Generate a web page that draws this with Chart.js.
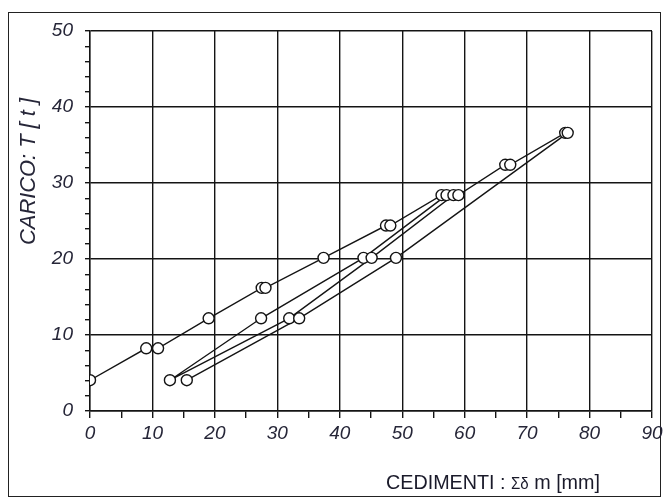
<!DOCTYPE html>
<html>
<head>
<meta charset="utf-8">
<script src="https://cdn.jsdelivr.net/npm/chart.js@4.4.1/dist/chart.umd.min.js"></script>
<style>
  html, body { margin: 0; padding: 0; background: #ffffff; }
  #wrap { width: 665px; height: 498px; }
</style>
</head>
<body>
<div id="wrap"><canvas id="c" width="665" height="498"></canvas></div>
<script>
// Settlement (mm) and load (t) readings, in test order (load, unload, reload, unload)
const settlements = [0, 9.0, 10.9, 19.0, 27.5, 28.1, 37.4, 47.4, 48.1, 56.3, 57.1,
                     43.8, 27.4, 12.8,
                     31.9, 45.1, 58.2, 59.0, 66.5, 67.3, 76.1, 76.5,
                     49.0, 33.5, 15.5];
const loads = [4.05, 8.25, 8.25, 12.2, 16.2, 16.2, 20.15, 24.4, 24.4, 28.4, 28.4,
               20.15, 12.2, 4.05,
               12.2, 20.15, 28.4, 28.4, 32.4, 32.4, 36.6, 36.6,
               20.15, 12.2, 4.05];
const xTickValues = [0, 10, 20, 30, 40, 50, 60, 70, 80, 90];
const yTickValues = [0, 10, 20, 30, 40, 50];
const xTitle = ['CEDIMENTI : ', 'Σδ', ' m [mm]'];
const yTitle = 'CARICO: T [ t ]';

const points = settlements.map((s, i) => ({ x: s, y: loads[i] }));
const INK = '#141414';
const LABEL = '#262638';

const framePlugin = {
  id: 'frame',
  beforeDraw(chart) {
    const ctx = chart.ctx;
    ctx.save();
    ctx.fillStyle = '#ffffff';
    ctx.fillRect(0, 0, chart.width, chart.height);
    ctx.strokeStyle = '#222';
    ctx.lineWidth = 1;
    ctx.strokeRect(8.5, 12.5, 652, 484);
    ctx.restore();
  },
  afterDraw(chart) {
    const ctx = chart.ctx;
    // y title
    ctx.save();
    ctx.fillStyle = LABEL;
    ctx.font = 'italic 22px "Liberation Sans", Arial, sans-serif';
    ctx.textAlign = 'center';
    ctx.textBaseline = 'alphabetic';
    ctx.translate(35, 171.5);
    ctx.rotate(-Math.PI / 2);
    const w = ctx.measureText(yTitle).width;
    ctx.scale(147 / w, 1);
    ctx.fillText(yTitle, 0, 0);
    ctx.restore();
    // x title
    ctx.save();
    ctx.fillStyle = '#1a1a2a';
    ctx.textBaseline = 'alphabetic';
    ctx.textAlign = 'left';
    const fonts = ['21px "Liberation Sans", Arial, sans-serif',
                   '16px "Liberation Sans", Arial, sans-serif',
                   '21px "Liberation Sans", Arial, sans-serif'];
    let total = 0;
    const widths = xTitle.map((t, i) => { ctx.font = fonts[i]; const m = ctx.measureText(t).width; total += m; return m; });
    const sx = 214 / total;
    ctx.translate(386, 489);
    ctx.scale(sx, 1);
    let cx = 0;
    xTitle.forEach((t, i) => { ctx.font = fonts[i]; ctx.fillText(t, cx, 0); cx += widths[i]; });
    ctx.restore();
  }
};

new Chart(document.getElementById('c'), {
  type: 'scatter',
  data: {
    datasets: [{
      data: points,
      showLine: true,
      tension: 0,
      borderColor: INK,
      borderWidth: 1.4,
      pointRadius: 5.5,
      pointHoverRadius: 5.5,
      pointBackgroundColor: '#ffffff',
      pointBorderColor: INK,
      pointBorderWidth: 1.4
    }]
  },
  options: {
    responsive: false,
    animation: false,
    devicePixelRatio: 1,
    layout: { padding: { top: 31, right: 13, left: 0, bottom: 0 } },
    plugins: { legend: { display: false }, tooltip: { enabled: false } },
    scales: {
      x: {
        type: 'linear', min: 0, max: 90,
        afterFit: s => { s.height = 87; s.paddingLeft = 0; s.paddingRight = 0; },
        afterBuildTicks: s => { s.ticks = []; for (let v = 0; v <= 90; v += 5) s.ticks.push({ value: v }); },
        ticks: {
          autoSkip: false, maxRotation: 0,
          callback: v => xTickValues.includes(v) ? String(v) : '',
          font: { family: '"Liberation Sans", Arial, sans-serif', size: 19, style: 'italic' },
          color: LABEL, padding: 4
        },
        grid: {
          color: c => (c.tick && xTickValues.includes(c.tick.value)) ? INK : 'rgba(0,0,0,0)',
          lineWidth: 1.4, tickLength: 7, tickColor: INK, tickWidth: 1.4
        },
        border: { display: true, color: INK, width: 1.4 }
      },
      y: {
        type: 'linear', min: 0, max: 50,
        afterFit: s => { s.width = 90; s.paddingTop = 0; s.paddingBottom = 0; },
        afterBuildTicks: s => { s.ticks = []; for (let v = 0; v <= 50; v += 2) s.ticks.push({ value: v }); },
        ticks: {
          autoSkip: false,
          callback: v => yTickValues.includes(v) ? String(v) : '',
          font: { family: '"Liberation Sans", Arial, sans-serif', size: 19, style: 'italic' },
          color: LABEL, padding: 12
        },
        grid: {
          color: c => (c.tick && yTickValues.includes(c.tick.value)) ? INK : 'rgba(0,0,0,0)',
          lineWidth: 1.4, tickLength: 5, tickColor: INK, tickWidth: 1.4
        },
        border: { display: true, color: INK, width: 1.4 }
      }
    }
  },
  plugins: [framePlugin]
});
</script>
</body>
</html>
